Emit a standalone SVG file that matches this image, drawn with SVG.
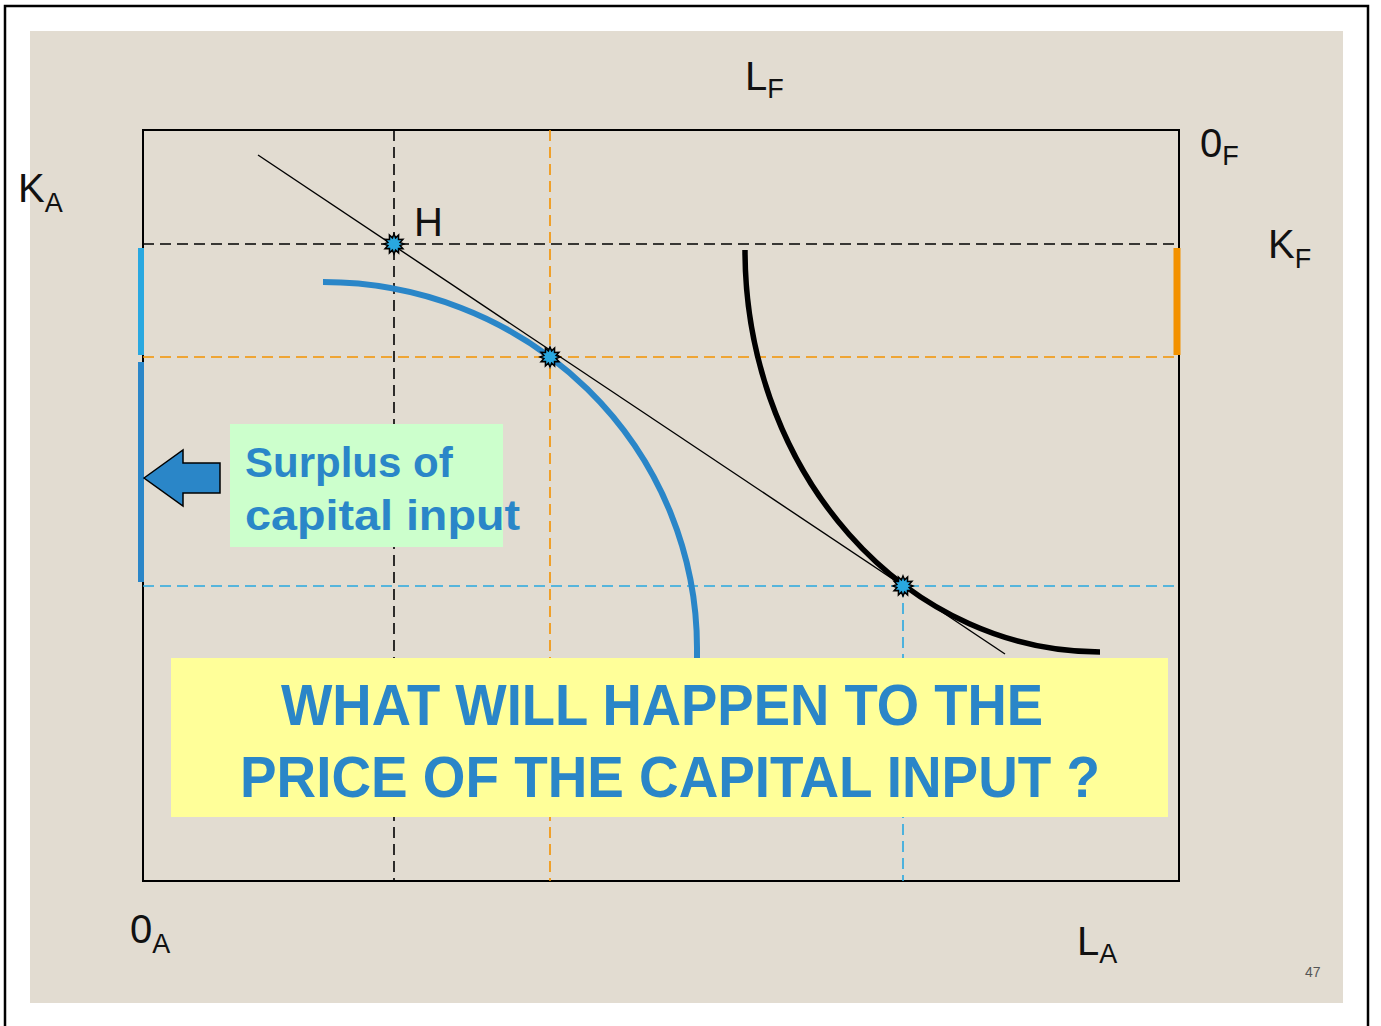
<svg xmlns="http://www.w3.org/2000/svg" width="1381" height="1026" viewBox="0 0 1381 1026">
<style>
.lbl{font-family:"Liberation Sans",Arial,sans-serif;fill:#111;font-size:40px}
.sub{font-size:27px}
.dash{stroke-dasharray:11 6;fill:none;stroke-width:1.6}
.big{font-family:"Liberation Sans",Arial,sans-serif;font-weight:bold;fill:#2A86C8}
</style>
<defs>
<polygon id="star" points="0,-10 1.6,-6.1 4.6,-8.9 4.5,-4.5 8.9,-4.6 6.1,-1.6 10,0 6.1,1.6 8.9,4.6 4.5,4.5 4.6,8.9 1.6,6.1 0,10 -1.6,6.1 -4.6,8.9 -4.5,4.5 -8.9,4.6 -6.1,1.6 -10,0 -6.1,-1.6 -8.9,-4.6 -4.5,-4.5 -4.6,-8.9 -1.6,-6.1" fill="#29A8E0" stroke="#000" stroke-width="1.5"/>
</defs>
<rect x="5" y="6" width="1363" height="1030" fill="#fff" stroke="#000" stroke-width="2.5"/>
<rect x="30" y="31" width="1313" height="972" fill="#E2DCD1"/>
<rect x="143" y="130" width="1036" height="751" fill="none" stroke="#000" stroke-width="2"/>
<g id="connectors">
<line class="dash" x1="143" y1="244" x2="1179" y2="244" stroke="#000"/>
<line class="dash" x1="394" y1="130" x2="394" y2="881" stroke="#000"/>
<line class="dash" x1="143" y1="357" x2="1179" y2="357" stroke="#F39200"/>
<line class="dash" x1="550" y1="130" x2="550" y2="881" stroke="#F39200"/>
<line class="dash" x1="143" y1="586" x2="1179" y2="586" stroke="#29A8E0"/>
<line class="dash" x1="903" y1="586" x2="903" y2="881" stroke="#29A8E0"/>
<line x1="258" y1="155" x2="1005" y2="654" stroke="#000" stroke-width="1.4"/>
<path d="M323,282 A374,366 0 0 1 697,648 L697,662" fill="none" stroke="#2A86C8" stroke-width="6"/>
<path d="M745,250 A355,402 0 0 0 1100,652" fill="none" stroke="#000" stroke-width="5.5"/>
<line x1="141" y1="248" x2="141" y2="355" stroke="#29A8E0" stroke-width="6"/>
<line x1="141" y1="362" x2="141" y2="582" stroke="#2A86C8" stroke-width="6"/>
<line x1="1177" y1="248" x2="1177" y2="355" stroke="#F39200" stroke-width="7"/>
</g>
<g id="points">
<use href="#star" x="394" y="244"/>
<use href="#star" x="550" y="357"/>
<use href="#star" x="903" y="586"/>
</g>
<g id="arrow"><polygon points="144,478 183,450 183,463 220,463 220,493 183,493 183,506" fill="#2A86C8" stroke="#000" stroke-width="1.5"/></g>
<g id="surplus">
<rect x="230" y="424" width="273" height="123" fill="#CCFFCC"/>
<text class="big" x="245" y="477" font-size="42">Surplus of</text>
<text class="big" x="245" y="530" font-size="42" textLength="275" lengthAdjust="spacingAndGlyphs">capital input</text>
</g>
<g id="question">
<rect x="171" y="658" width="997" height="159" fill="#FFFF99"/>
<text class="big" x="281" y="725" font-size="58" textLength="762" lengthAdjust="spacingAndGlyphs">WHAT WILL HAPPEN TO THE</text>
<text class="big" x="240" y="797" font-size="58" textLength="860" lengthAdjust="spacingAndGlyphs">PRICE OF THE CAPITAL INPUT ?</text>
</g>
<g id="labels">
<text class="lbl" x="745" y="90">L<tspan class="sub" dy="8">F</tspan></text>
<text class="lbl" x="1200" y="157">0<tspan class="sub" dy="8">F</tspan></text>
<text class="lbl" x="18" y="202">K<tspan class="sub" dy="10">A</tspan></text>
<text class="lbl" x="1268" y="258">K<tspan class="sub" dy="10">F</tspan></text>
<text class="lbl" x="130" y="943">0<tspan class="sub" dy="10">A</tspan></text>
<text class="lbl" x="1077" y="955">L<tspan class="sub" dy="8">A</tspan></text>
<text class="lbl" x="414" y="236">H</text>
<text x="1305" y="977" font-family="Liberation Sans,Arial,sans-serif" font-size="14" fill="#555">47</text>
</g>
</svg>
